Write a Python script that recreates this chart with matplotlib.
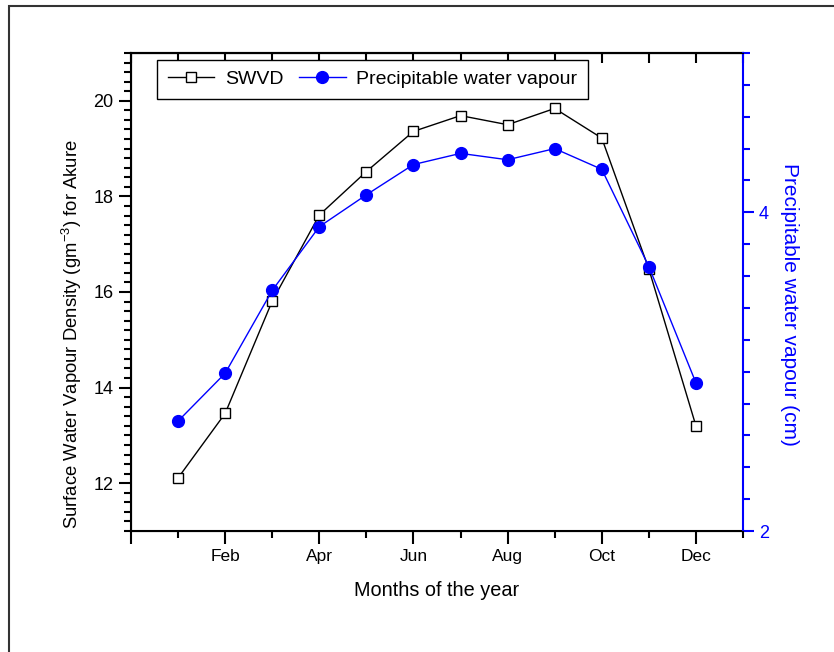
import matplotlib
matplotlib.use("Agg")
import matplotlib.pyplot as plt
from matplotlib.patches import Rectangle
from matplotlib.ticker import MultipleLocator, FixedLocator

plt.rcParams['font.family'] = ['Liberation Sans', 'DejaVu Sans']
plt.rcParams['mathtext.fontset'] = 'custom'
plt.rcParams['mathtext.rm'] = 'Liberation Sans'
plt.rcParams['mathtext.it'] = 'Liberation Sans:italic'

# data
months = [1, 2, 3, 4, 5, 6, 7, 8, 9, 10, 11, 12]
swvd = [12.11, 13.46, 15.81, 17.61, 18.52, 19.36, 19.69, 19.50, 19.84, 19.22, 16.48, 13.20]
pwv = [2.69, 2.99, 3.51, 3.91, 4.11, 4.30, 4.37, 4.33, 4.40, 4.27, 3.66, 2.93]
tick_months = [0, 2, 4, 6, 8, 10, 12]
tick_labels = ['', 'Feb', 'Apr', 'Jun', 'Aug', 'Oct', 'Dec']

fig = plt.figure(figsize=(8.34, 6.52), dpi=100)
ax = fig.add_axes([131/834, 1-531/652, 612/834, 478/652])
ax2 = ax.twinx()

l1, = ax.plot(months, swvd, color='black', lw=1, marker='s', ms=7,
              mfc='white', mec='black', mew=1, label='SWVD')
l2, = ax2.plot(months, pwv, color='blue', lw=1, marker='o', ms=8.5,
               mfc='blue', mec='blue', label='Precipitable water vapour')

ax.set_xlim(0, 13)
ax.set_ylim(11, 21)
ax2.set_ylim(2, 5)

ax.xaxis.set_major_locator(FixedLocator(tick_months))
ax.set_xticklabels(tick_labels)
ax.xaxis.set_minor_locator(FixedLocator([1, 3, 5, 7, 9, 11, 13]))
ax.yaxis.set_major_locator(MultipleLocator(2))
ax.yaxis.set_minor_locator(MultipleLocator(0.2))
ax2.yaxis.set_major_locator(MultipleLocator(2))
ax2.yaxis.set_minor_locator(MultipleLocator(0.2))

ax.tick_params(axis='both', which='major', direction='out', length=9, width=1.5, labelsize=13)
ax.tick_params(axis='both', which='minor', direction='out', length=5, width=1.5)
ax.tick_params(axis='x', labelsize=12.5, pad=4)
ax2.tick_params(axis='y', which='major', direction='out', length=8, width=1.5,
                colors='blue', labelsize=13)
ax2.tick_params(axis='y', which='minor', direction='out', length=5, width=1.5, colors='blue')

# inward ticks along the top
top = ax.secondary_xaxis('top')
top.set_xticks(range(0, 14))
top.tick_params(direction='in', length=7, width=1.5, labeltop=False)
top.spines['top'].set_linewidth(1.5)

for s in ['left', 'bottom', 'top']:
    ax.spines[s].set_linewidth(1.5)
ax2.spines['right'].set_color('blue')
ax2.spines['right'].set_linewidth(1.5)
ax.spines['right'].set_visible(False)

ax.set_xlabel('Months of the year', fontsize=14.3, labelpad=12)
ax.set_ylabel('Surface Water Vapour Density (gm$^{-3}$) for Akure', fontsize=13.3)
ax.yaxis.set_label_coords(-0.0964, 0.412)
ax.yaxis.label.set_va('center')
ax2.set_ylabel('Precipitable water vapour (cm)', fontsize=15, color='blue', rotation=270)
ax2.yaxis.set_label_coords(1.0752, 0.473)
ax2.yaxis.label.set_va('center')

leg = ax2.legend([l1, l2], ['SWVD', 'Precipitable water vapour'], ncol=2,
                 loc='upper left', bbox_to_anchor=(0.0425, 0.9854), borderaxespad=0,
                 fontsize=14, frameon=True, fancybox=False, framealpha=1,
                 edgecolor='black', handlelength=2.4, columnspacing=0.8,
                 handletextpad=0.55, borderpad=0.55)
leg.get_frame().set_linewidth(1)

# partial outer frame
fig.patches.append(Rectangle((9/834, -0.1), 1.1, 1.1 - 6/652, transform=fig.transFigure,
                             fill=False, edgecolor='#333333', lw=1.5))

fig.savefig('out.png', dpi=100)
